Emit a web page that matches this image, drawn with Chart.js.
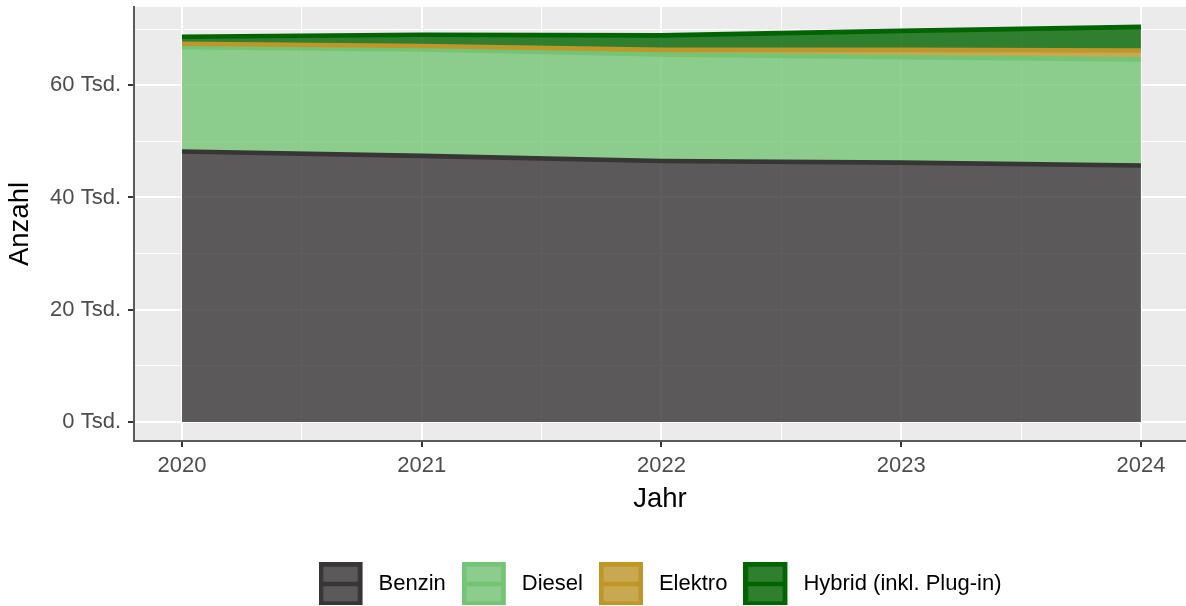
<!DOCTYPE html>
<html lang="de">
<head>
<meta charset="utf-8">
<title>Anzahl nach Kraftstoffart</title>
<script src="https://cdn.jsdelivr.net/npm/chart.js@4"></script>
<style>
  html, body { margin: 0; padding: 0; background: #fff; }
  canvas { display: block; }
</style>
</head>
<body>
<canvas id="kraftstoffChart" width="1186" height="606"></canvas>
<script>
// Werte (Anzahl je Jahr)
const jahre = [2020, 2021, 2022, 2023, 2024];
const benzin = [48200, 47400, 46500, 46200, 45700];
const diesel = [18600, 19000, 19000, 18800, 18900];
const elektro = [600, 600, 800, 1300, 1600];
const hybrid = [1250, 2000, 2600, 3400, 4200];

const kategorien = ['Benzin', 'Diesel', 'Elektro', 'Hybrid (inkl. Plug-in)'];
const farben = ['#373535', '#74C476', '#BF9729', '#006400'];

// Hilfslinien (Haupt- und Nebenlinien)
const xTicks = [2020, 2020.5, 2021, 2021.5, 2022, 2022.5, 2023, 2023.5, 2024];
const yTicks = [0, 10000, 20000, 30000, 40000, 50000, 60000, 70000];

const PANEL = '#EBEBEB';
const SCHRIFT = '"Liberation Sans", Arial, Helvetica, sans-serif';

Chart.defaults.font.family = SCHRIFT;

function rgba(hex, a) {
    const r = parseInt(hex.slice(1, 3), 16);
    const g = parseInt(hex.slice(3, 5), 16);
    const b = parseInt(hex.slice(5, 7), 16);
    return `rgba(${r}, ${g}, ${b}, ${a})`;
}

// Legenden-Symbol wie bei ggplot: Kasten mit Rand und Mittellinie
function legendenBild(farbe) {
    const c = document.createElement('canvas');
    c.width = 49;
    c.height = 44;
    const k = c.getContext('2d');
    k.fillStyle = PANEL;
    k.fillRect(0, 0, 44, 44);
    k.fillStyle = rgba(farbe, 0.8);
    k.fillRect(0, 0, 44, 44);
    k.strokeStyle = farbe;
    k.lineWidth = 4.7;
    k.strokeRect(2.35, 2.35, 39.3, 39.3);
    k.beginPath();
    k.moveTo(0, 22);
    k.lineTo(44, 22);
    k.stroke();
    return c;
}

// Gestapelte Summen selbst bilden
const reihen = [benzin, diesel, elektro, hybrid];
const summe = jahre.map(() => 0);
const datasets = reihen.map((werte, i) => {
    const punkte = jahre.map((jahr, j) => {
        summe[j] += werte[j];
        return { x: jahr, y: summe[j] };
    });
    return {
        label: kategorien[i],
        data: punkte,
        borderColor: farben[i],
        backgroundColor: rgba(farben[i], 0.8),
        borderWidth: 4.7,
        borderJoinStyle: 'round',
        tension: 0,
        pointRadius: 0,
        fill: i === 0 ? 'origin' : '-1',
        order: reihen.length - 1 - i
    };
});

const panelHintergrund = {
    id: 'panelHintergrund',
    beforeDraw(chart) {
        const { ctx, chartArea } = chart;
        ctx.save();
        ctx.fillStyle = '#ffffff';
        ctx.fillRect(0, 0, chart.width, chart.height);
        ctx.fillStyle = PANEL;
        ctx.fillRect(chartArea.left, chartArea.top, chartArea.right - chartArea.left, chartArea.bottom - chartArea.top);
        ctx.restore();
    }
};

const istHaupt = (v, schritt) => Math.abs(v / schritt - Math.round(v / schritt)) < 1e-9;

new Chart(document.getElementById('kraftstoffChart'), {
    type: 'line',
    data: { datasets: datasets },
    plugins: [panelHintergrund],
    options: {
        responsive: false,
        animation: false,
        layout: { padding: { top: 7, right: 0, bottom: 1, left: 0 } },
        plugins: {
            tooltip: { enabled: false },
            // erst alle Flächen, dann die Linien darüber
            filler: { drawTime: 'beforeDatasetsDraw' },
            legend: {
                position: 'bottom',
                fullSize: false,
                labels: {
                    usePointStyle: true,
                    pointStyleWidth: 49,
                    padding: 16,
                    color: '#000000',
                    font: { size: 22 },
                    generateLabels(chart) {
                        const items = Chart.defaults.plugins.legend.labels.generateLabels(chart);
                        items.forEach(item => {
                            item.pointStyle = legendenBild(farben[item.datasetIndex]);
                        });
                        return items;
                    },
                    sort: (a, b) => a.datasetIndex - b.datasetIndex
                }
            }
        },
        scales: {
            x: {
                type: 'linear',
                min: 2019.8,
                max: 2024.188,
                afterBuildTicks(axis) {
                    axis.ticks = xTicks.map(v => ({ value: v }));
                },
                afterFit(scale) {
                    scale.height = 116;
                    scale.paddingLeft = 0;
                    scale.paddingRight = 0;
                },
                ticks: {
                    autoSkip: false,
                    maxRotation: 0,
                    padding: 6,
                    color: '#4D4D4D',
                    font: { size: 22 },
                    callback: v => istHaupt(v, 1) ? String(v) : ''
                },
                grid: {
                    color: '#ffffff',
                    lineWidth: c => istHaupt(c.tick.value, 1) ? 2 : 1,
                    tickLength: 6,
                    tickColor: c => istHaupt(c.tick.value, 1) ? '#333333' : 'rgba(0,0,0,0)',
                    tickWidth: 2
                },
                border: { display: true, color: '#5A5A5A', width: 2 },
                title: {
                    display: true,
                    text: 'Jahr',
                    color: '#000000',
                    font: { size: 27.5 },
                    padding: { top: 0, bottom: 41.5 }
                }
            },
            y: {
                type: 'linear',
                min: -3400,
                max: 73950,
                afterBuildTicks(axis) {
                    axis.ticks = yTicks.map(v => ({ value: v }));
                },
                afterFit(scale) {
                    scale.width = 134;
                    scale.paddingTop = 0;
                    scale.paddingBottom = 0;
                },
                ticks: {
                    padding: 7,
                    color: '#4D4D4D',
                    font: { size: 22 },
                    callback: v => istHaupt(v, 20000) ? (v / 1000) + ' Tsd.' : ''
                },
                grid: {
                    color: '#ffffff',
                    lineWidth: c => istHaupt(c.tick.value, 20000) ? 2 : 1,
                    tickLength: 6,
                    tickColor: c => istHaupt(c.tick.value, 20000) ? '#333333' : 'rgba(0,0,0,0)',
                    tickWidth: 2
                },
                border: { display: true, color: '#5A5A5A', width: 2 },
                title: {
                    display: true,
                    text: 'Anzahl',
                    color: '#000000',
                    font: { size: 27.5 },
                    padding: { top: 4, bottom: 0 }
                }
            }
        }
    }
});
</script>
</body>
</html>
